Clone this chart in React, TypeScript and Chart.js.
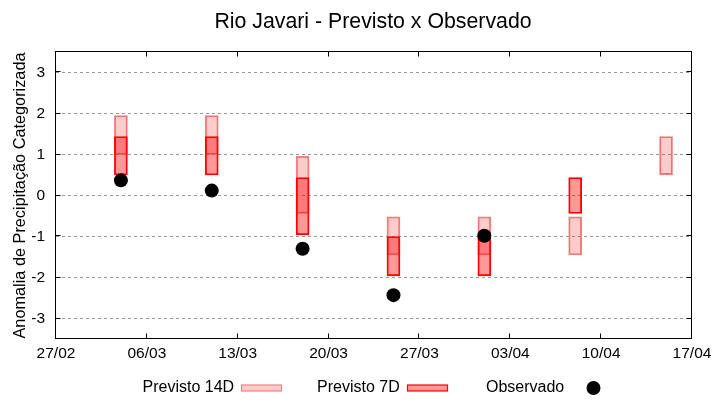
import React, { useEffect, useRef } from "react";
import { Chart, registerables } from "chart.js";

Chart.register(...registerables);

const chartTitle = "Rio Javari - Previsto x Observado";
const yAxisTitle = "Anomalia de Precipitação Categorizada";
// x axis in days after 27/02
const xTickDays = [0, 7, 14, 21, 28, 35, 42, 49];
const xTickLabels = ["27/02", "06/03", "13/03", "20/03", "27/03", "03/04", "10/04", "17/04"];
const yTickValues = [-3, -2, -1, 0, 1, 2, 3];
const forecastDays = [5, 12, 19, 26, 33, 40, 47];
const previsto14DLow = [1.0, 1.0, -0.44, -1.45, -1.45, -1.45, 0.51];
const previsto14DHigh = [1.95, 1.95, 0.96, -0.52, -0.52, -0.52, 1.44];
const previsto7DLow: (number | null)[] = [0.5, 0.5, -0.96, -1.96, -1.96, -0.44, null];
const previsto7DHigh: (number | null)[] = [1.44, 1.44, 0.44, -1.0, -1.0, 0.44, null];
const observado: (number | null)[] = [0.37, 0.12, -1.3, -2.43, -0.98, null, null];
const legendLabels = ["Previsto 14D", "Previsto 7D", "Observado"];

const FONT = '"Liberation Sans", Arial, sans-serif';
const C14_FILL = "rgba(255,0,0,0.2)";
const C14_BORDER = "#f08080";
const C7_FILL = "rgba(255,0,0,0.4)";
const C7_BORDER = "#ff0000";

const framePlugin = {
  id: "gnuplotFrame",
  afterDraw(chart: any) {
    const ctx = chart.ctx as CanvasRenderingContext2D;
    const a = chart.chartArea;
    const L = Math.round(a.left) - 0.5;
    const R = Math.round(a.right) - 0.5;
    const T = Math.round(a.top) - 0.5;
    const B = Math.round(a.bottom) - 0.5;
    ctx.save();
    ctx.strokeStyle = "#000";
    ctx.lineWidth = 1;
    ctx.setLineDash([]);
    ctx.strokeRect(L, T, R - L, B - T);
    const tl = 5;
    ctx.beginPath();
    const xs = chart.scales.x;
    xTickDays.forEach((d) => {
      const px = Math.round(xs.getPixelForValue(d)) - 0.5;
      if (px <= L + 1 || px >= R - 1) return;
      ctx.moveTo(px, B);
      ctx.lineTo(px, B - tl);
      ctx.moveTo(px, T);
      ctx.lineTo(px, T + tl);
    });
    const ys = chart.scales.y;
    yTickValues.forEach((v) => {
      const py = Math.round(ys.getPixelForValue(v)) - 0.5;
      ctx.moveTo(L, py);
      ctx.lineTo(L + tl, py);
      ctx.moveTo(R, py);
      ctx.lineTo(R - tl, py);
    });
    ctx.stroke();

    // title
    ctx.fillStyle = "#000";
    ctx.font = `21.3px ${FONT}`;
    ctx.textAlign = "center";
    ctx.textBaseline = "alphabetic";
    ctx.fillText(chartTitle, 373, 27.5);

    // legend
    ctx.font = `16px ${FONT}`;
    ctx.textAlign = "left";
    ctx.fillText(legendLabels[0], 142.5, 392);
    ctx.fillText(legendLabels[1], 317, 392);
    ctx.fillText(legendLabels[2], 486, 392);
    ctx.lineWidth = 1.2;
    ctx.fillStyle = C14_FILL;
    ctx.fillRect(241.5, 385, 40, 6);
    ctx.strokeStyle = C14_BORDER;
    ctx.strokeRect(241.5, 385, 40, 6);
    ctx.fillStyle = C7_FILL;
    ctx.fillRect(407.5, 385, 40, 6);
    ctx.strokeStyle = C7_BORDER;
    ctx.strokeRect(407.5, 385, 40, 6);
    ctx.fillStyle = "#000";
    ctx.beginPath();
    ctx.arc(593.5, 388, 7, 0, Math.PI * 2);
    ctx.fill();
    ctx.restore();
  },
};

export default function App() {
  const ref = useRef<HTMLCanvasElement | null>(null);

  useEffect(() => {
    if (!ref.current) return;
    Chart.defaults.font.family = FONT;
    const d14 = forecastDays.map((x, i) => ({ x, y: [previsto14DLow[i], previsto14DHigh[i]] }));
    const d7 = forecastDays
      .map((x, i) => ({ x, lo: previsto7DLow[i], hi: previsto7DHigh[i] }))
      .filter((p) => p.lo !== null && p.hi !== null)
      .map((p) => ({ x: p.x, y: [p.lo as number, p.hi as number] }));
    const dObs = forecastDays
      .map((x, i) => ({ x, y: observado[i] }))
      .filter((p) => p.y !== null);

    const chart = new Chart(ref.current, {
      type: "bar",
      data: {
        datasets: [
          {
            type: "bar",
            label: legendLabels[0],
            data: d14 as any,
            backgroundColor: C14_FILL,
            borderColor: C14_BORDER,
            borderWidth: 1.2,
            borderSkipped: false,
            barThickness: 13,
            grouped: false,
            order: 3,
          },
          {
            type: "bar",
            label: legendLabels[1],
            data: d7 as any,
            backgroundColor: C7_FILL,
            borderColor: C7_BORDER,
            borderWidth: 1.2,
            borderSkipped: false,
            barThickness: 13,
            grouped: false,
            order: 2,
          },
          {
            type: "scatter",
            label: legendLabels[2],
            data: dObs as any,
            backgroundColor: "#000",
            borderColor: "#000",
            borderWidth: 0,
            pointRadius: 7,
            pointHoverRadius: 7,
            order: 1,
          } as any,
        ],
      },
      options: {
        animation: false,
        responsive: false,
        maintainAspectRatio: false,
        layout: { padding: { left: 0, right: 28, top: 52, bottom: 0 } },
        plugins: {
          legend: { display: false },
          title: { display: false },
          tooltip: { enabled: false },
        },
        scales: {
          x: {
            type: "linear",
            min: 0,
            max: 49,
            offset: false,
            grid: { display: false, drawTicks: false },
            border: { display: false },
            afterBuildTicks: (scale: any) => {
              scale.ticks = xTickDays.map((v) => ({ value: v }));
            },
            afterFit: (scale: any) => {
              scale.height = 61;
            },
            ticks: {
              autoSkip: false,
              maxRotation: 0,
              padding: 5,
              color: "#000",
              font: { size: 15.5, family: FONT },
              callback: (value: any) => {
                const i = xTickDays.indexOf(Number(value));
                return i >= 0 ? xTickLabels[i] : "";
              },
            },
          },
          y: {
            type: "linear",
            min: -3.5,
            max: 3.5,
            grid: { color: "#999999", lineWidth: 1, drawTicks: false },
            border: { display: false, dash: [3, 3] },
            afterBuildTicks: (scale: any) => {
              scale.ticks = yTickValues.map((v) => ({ value: v }));
            },
            afterFit: (scale: any) => {
              scale.width = 56;
            },
            ticks: {
              padding: 11,
              color: "#000",
              font: { size: 15.5, family: FONT },
              callback: (value: any) => String(value),
            },
            title: {
              display: true,
              text: yAxisTitle,
              color: "#000",
              font: { size: 16.3, family: FONT },
              padding: { top: 11, bottom: 0 },
            },
          },
        },
      },
      plugins: [framePlugin],
    });
    return () => chart.destroy();
  }, []);

  return (
    <div style={{ position: "absolute", left: 0, top: 0, width: 720, height: 400, background: "#fff" }}>
      <canvas ref={ref} width={720} height={400} />
    </div>
  );
}
